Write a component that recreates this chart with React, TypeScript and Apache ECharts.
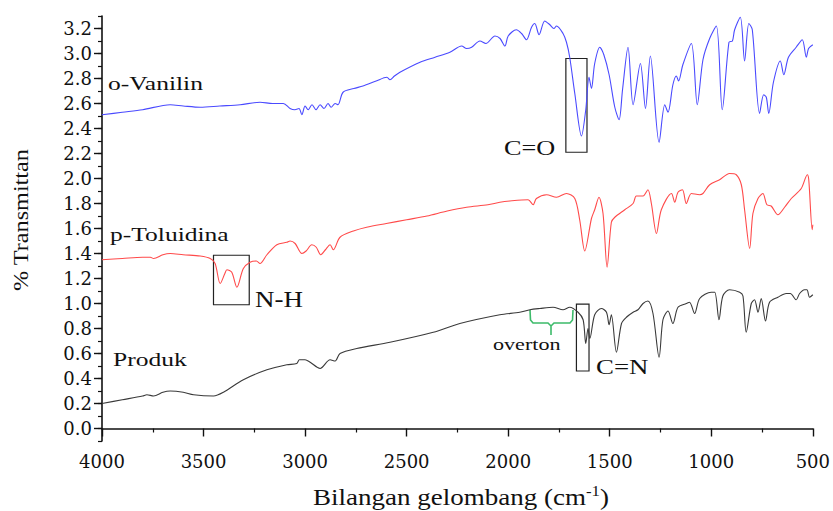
import React, { useEffect, useRef } from 'react';
import * as echarts from 'echarts';

// wavenumber (cm-1), % transmittan (offset)
const vanilin: [number, number][] = [
  [4000, 2.51], [3900, 2.53], [3800, 2.55], [3664, 2.59], [3600, 2.58], [3516, 2.57], [3420, 2.58],
  [3320, 2.59], [3222, 2.61], [3160, 2.60], [3107, 2.60], [3074, 2.56], [3050, 2.55], [3030, 2.56],
  [3016, 2.51], [3000, 2.58], [2985, 2.55], [2966, 2.59], [2946, 2.55], [2926, 2.59], [2907, 2.56],
  [2887, 2.60], [2872, 2.57], [2852, 2.60], [2838, 2.59], [2813, 2.69], [2760, 2.72], [2715, 2.74],
  [2650, 2.78], [2597, 2.81], [2582, 2.79], [2560, 2.82], [2533, 2.85], [2434, 2.93], [2360, 2.97],
  [2287, 3.01], [2229, 3.06], [2205, 3.04], [2180, 3.05], [2139, 3.10], [2110, 3.08], [2065, 3.14],
  [2040, 3.12], [2016, 3.06], [2000, 3.14], [1960, 3.19], [1934, 3.16], [1910, 3.11], [1885, 3.21],
  [1869, 3.24], [1848, 3.15], [1820, 3.26], [1795, 3.23], [1775, 3.20], [1762, 3.22], [1730, 3.16],
  [1713, 3.09], [1697, 2.97], [1672, 2.68], [1639, 2.34], [1618, 2.55], [1602, 2.81], [1590, 2.72],
  [1574, 2.92], [1549, 3.05], [1529, 2.99], [1503, 2.83], [1475, 2.57], [1454, 2.47], [1437, 2.71],
  [1410, 3.05], [1385, 2.59], [1349, 2.92], [1324, 2.56], [1300, 2.98], [1257, 2.29], [1229, 2.59],
  [1213, 2.53], [1189, 2.75], [1172, 2.82], [1161, 2.78], [1140, 2.91], [1098, 3.08], [1069, 2.59],
  [1041, 2.95], [1008, 3.12], [975, 3.22], [946, 2.55], [913, 3.09], [896, 3.10], [885, 3.19],
  [857, 3.29], [836, 2.94], [815, 3.24], [798, 3.19], [762, 2.52], [742, 2.67], [729, 2.65],
  [717, 2.52], [694, 2.77], [660, 2.94], [643, 2.83], [620, 2.97], [582, 3.05], [552, 3.11],
  [532, 2.97], [521, 3.04], [500, 3.07],
];

const toluidina: [number, number][] = [
  [4000, 1.35], [3900, 1.36], [3800, 1.37], [3762, 1.37], [3746, 1.36], [3700, 1.39], [3664, 1.40],
  [3600, 1.39], [3516, 1.38], [3467, 1.36], [3443, 1.32], [3418, 1.16], [3395, 1.24], [3385, 1.27],
  [3361, 1.25], [3336, 1.13], [3304, 1.28], [3271, 1.33], [3240, 1.34], [3222, 1.32], [3188, 1.39],
  [3139, 1.47], [3090, 1.49], [3074, 1.50], [3049, 1.48], [3016, 1.40], [2995, 1.42], [2967, 1.47],
  [2945, 1.45], [2923, 1.39], [2900, 1.43], [2877, 1.47], [2861, 1.43], [2828, 1.53], [2762, 1.58],
  [2697, 1.61], [2600, 1.64], [2500, 1.67], [2400, 1.70], [2300, 1.74], [2205, 1.77], [2100, 1.79],
  [2041, 1.81], [1992, 1.82], [1902, 1.83], [1877, 1.79], [1861, 1.84], [1811, 1.87], [1762, 1.85],
  [1713, 1.88], [1672, 1.84], [1648, 1.67], [1623, 1.42], [1590, 1.68], [1574, 1.75], [1553, 1.85],
  [1533, 1.72], [1513, 1.29], [1492, 1.65], [1475, 1.69], [1426, 1.75], [1385, 1.80], [1369, 1.86],
  [1336, 1.86], [1312, 1.91], [1295, 1.80], [1270, 1.56], [1246, 1.75], [1196, 1.88], [1180, 1.81],
  [1164, 1.89], [1142, 1.91], [1123, 1.80], [1098, 1.88], [1057, 1.87], [1041, 1.88], [1008, 1.95],
  [959, 1.99], [910, 2.04], [877, 2.03], [852, 1.95], [836, 1.75], [811, 1.44], [795, 1.72],
  [770, 1.84], [746, 1.88], [726, 1.79], [705, 1.78], [672, 1.71], [639, 1.77], [606, 1.84],
  [557, 1.92], [527, 2.03], [520, 1.99], [503, 1.59], [500, 1.63],
];

const produk: [number, number][] = [
  [4000, 0.20], [3900, 0.23], [3800, 0.26], [3779, 0.27], [3746, 0.26], [3700, 0.29], [3664, 0.30],
  [3600, 0.29], [3549, 0.27], [3451, 0.26], [3402, 0.29], [3304, 0.39], [3188, 0.47], [3090, 0.51],
  [3041, 0.52], [3028, 0.55], [3000, 0.55], [2975, 0.53], [2926, 0.48], [2877, 0.55], [2852, 0.54],
  [2828, 0.60], [2746, 0.64], [2582, 0.69], [2369, 0.77], [2238, 0.84], [2041, 0.91], [1943, 0.93],
  [1893, 0.95], [1844, 0.96], [1779, 0.97], [1730, 0.95], [1697, 0.97], [1656, 0.93], [1631, 0.87],
  [1618, 0.68], [1607, 0.80], [1598, 0.72], [1574, 0.91], [1541, 0.96], [1516, 0.93], [1503, 0.83],
  [1492, 0.91], [1467, 0.61], [1442, 0.84], [1418, 0.89], [1385, 0.93], [1361, 0.95], [1336, 1.00],
  [1312, 1.02], [1287, 0.92], [1257, 0.57], [1238, 0.87], [1213, 0.94], [1189, 0.84], [1164, 0.97],
  [1123, 1.00], [1107, 1.01], [1082, 0.92], [1057, 1.04], [1000, 1.09], [983, 1.09], [962, 0.87],
  [943, 1.06], [910, 1.11], [860, 1.09], [844, 1.06], [828, 0.77], [803, 1.00], [787, 1.03],
  [770, 0.93], [754, 1.04], [733, 0.86], [713, 1.01], [672, 1.05], [631, 1.08], [611, 1.08],
  [582, 1.03], [565, 1.08], [541, 1.11], [529, 1.11], [516, 1.05], [500, 1.07],
];

const yMajorTicks = [0, 0.2, 0.4, 0.6, 0.8, 1.0, 1.2, 1.4, 1.6, 1.8, 2.0, 2.2, 2.4, 2.6, 2.8, 3.0, 3.2];
const xTicks = [4000, 3500, 3000, 2500, 2000, 1500, 1000, 500];

// annotation boxes in data units [wavenumber, value]
const boxCO: [number, number][] = [[1716, 2.96], [1612, 2.21]];
const boxNH: [number, number][] = [[3451, 1.386], [3275, 0.99]];
const boxCN: [number, number][] = [[1664, 0.995], [1602, 0.46]];

const serif = '"Liberation Serif", "Times New Roman", serif';

export default function App() {
  const ref = useRef<HTMLDivElement>(null);
  useEffect(() => {
    const chart = echarts.init(ref.current!, null, { renderer: 'svg' });
    const boxStyle = { color: 'rgba(0,0,0,0)', borderColor: '#222', borderWidth: 1.2 };
    const mkBox = (b: [number, number][]) => ({
      silent: true,
      itemStyle: boxStyle,
      data: [[{ coord: b[0] }, { coord: b[1] }]],
    });
    const label = (text: string, x: number, y: number, size: number, sx: number) => ({
      type: 'text',
      x,
      y,
      scaleX: sx,
      silent: true,
      style: {
        text,
        fontSize: size,
        fontFamily: serif,
        fill: '#111',
        textAlign: 'left',
        textVerticalAlign: 'middle',
      },
    });
    chart.setOption({
      animation: false,
      backgroundColor: '#fff',
      grid: { left: 102, right: 20, top: 16, bottom: 70 },
      xAxis: {
        type: 'value',
        inverse: true,
        min: 500,
        max: 4000,
        interval: 500,
        axisLine: { show: true, lineStyle: { color: '#111', width: 1.6 } },
        axisTick: { show: true, length: 8, lineStyle: { color: '#111', width: 1.4 } },
        minorTick: { show: true, splitNumber: 2, length: 4, lineStyle: { color: '#111', width: 1.2 } },
        splitLine: { show: false },
        axisLabel: {
          margin: 11,
          fontSize: 18,
          fontFamily: '"DejaVu Serif", serif',
          color: '#111',
          formatter: (v: number) => (xTicks.includes(v) ? String(v) : ''),
        },
      },
      yAxis: [
        {
          type: 'value',
          min: -0.1,
          max: 3.3,
          interval: 0.1,
          axisLine: { show: true, lineStyle: { color: '#111', width: 1.6 } },
          axisTick: { show: true, length: 4, lineStyle: { color: '#111', width: 1.2 } },
          splitLine: { show: false },
          axisLabel: {
            margin: 10,
            fontSize: 18,
            fontFamily: '"DejaVu Serif", serif',
            color: '#111',
            formatter: (v: number) => {
              const t = Math.round(v * 10);
              return t % 2 === 0 && t >= 0 ? (t / 10).toFixed(1) : '';
            },
          },
        },
        {
          type: 'value',
          position: 'left',
          min: -0.1,
          max: 3.3,
          axisLine: { show: false },
          splitLine: { show: false },
          axisLabel: { show: false },
          axisTick: {
            show: true,
            length: 8,
            customValues: yMajorTicks,
            lineStyle: { color: '#111', width: 1.4 },
          },
        },
      ],
      series: [
        {
          name: 'o-Vanilin',
          type: 'line',
          data: vanilin,
          showSymbol: false,
          symbol: 'none',
          smooth: 0.3,
          lineStyle: { color: '#4a4aff', width: 1.1 },
          markArea: mkBox(boxCO),
        },
        {
          name: 'p-Toluidina',
          type: 'line',
          data: toluidina,
          showSymbol: false,
          symbol: 'none',
          smooth: 0.3,
          lineStyle: { color: '#ff4a4a', width: 1.1 },
          markArea: mkBox(boxNH),
        },
        {
          name: 'Produk',
          type: 'line',
          data: produk,
          showSymbol: false,
          symbol: 'none',
          smooth: 0.3,
          lineStyle: { color: '#3a3a3a', width: 1.1 },
          markArea: mkBox(boxCN),
        },
      ],
      graphic: [
        label('o-Vanilin', 108, 84, 18.5, 1.38),
        label('p-Toluidina', 110, 235, 18.5, 1.38),
        label('Produk', 113, 360, 18.5, 1.38),
        label('C=O', 504, 148, 21, 1.25),
        label('N-H', 255, 299, 22.5, 1.2),
        label('C=N', 596, 366, 22, 1.22),
        label('overton', 493, 344, 17, 1.3),
        {
          type: 'polyline',
          silent: true,
          shape: {
            points: [
              [530, 310], [530.5, 320], [533, 323], [548, 323], [551, 326], [551, 335],
              [551, 326], [554, 323], [570, 323], [572.5, 320], [573, 310],
            ],
          },
          style: { stroke: '#3dbb6a', lineWidth: 1.6, fill: 'none' },
        },
        {
          type: 'text',
          x: 20,
          y: 220,
          rotation: Math.PI / 2,
          scaleX: 1.1,
          silent: true,
          style: {
            text: '% Transmittan',
            fontSize: 22,
            fontFamily: serif,
            fill: '#111',
            textAlign: 'center',
            textVerticalAlign: 'middle',
          },
        },
        {
          type: 'text',
          x: 461,
          y: 497,
          scaleX: 1.2,
          silent: true,
          style: {
            text: '{a|Bilangan gelombang (cm}{s|-1}{a|)}',
            fontFamily: serif,
            fill: '#111',
            textAlign: 'center',
            textVerticalAlign: 'middle',
            rich: {
              a: { fontSize: 22.5, fontFamily: serif, fill: '#111', lineHeight: 26 },
              s: { fontSize: 14, fontFamily: serif, fill: '#111', lineHeight: 26, verticalAlign: 'top' },
            },
          },
        },
      ],
    });
    return () => chart.dispose();
  }, []);
  return (
    <div
      ref={ref}
      style={{ position: 'absolute', left: 0, top: 0, width: 833, height: 511, background: '#fff' }}
    />
  );
}
